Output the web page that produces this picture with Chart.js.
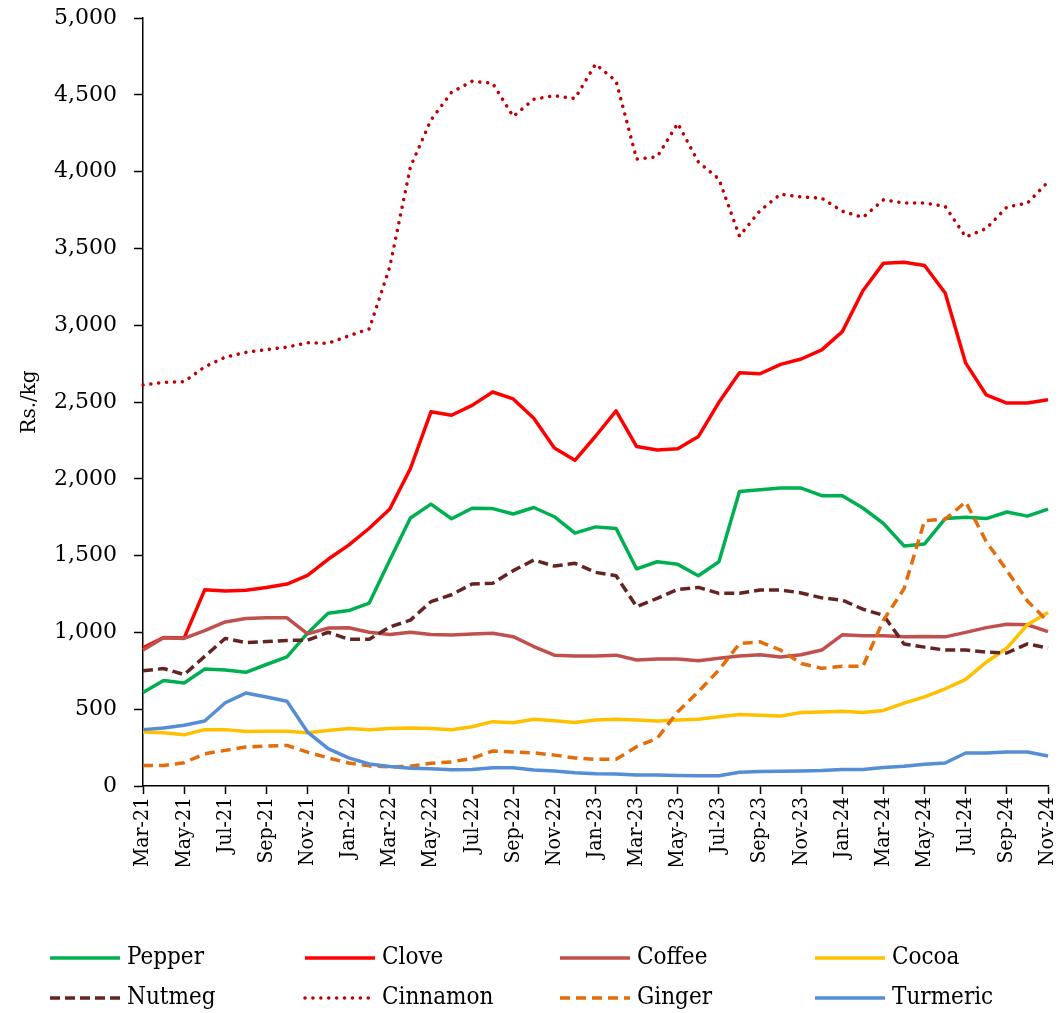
<!DOCTYPE html>
<html>
<head>
<meta charset="utf-8">
<script src="https://cdn.jsdelivr.net/npm/chart.js@4.4.1/dist/chart.umd.min.js"></script>
<style>
  html, body { margin: 0; padding: 0; background: #fff; }
  #wrap { width: 1059px; height: 1013px; }
</style>
</head>
<body>
<div id="wrap"><canvas id="myChart" width="1059" height="1013"></canvas></div>
<script>
const months = ['Mar-21','Apr-21','May-21','Jun-21','Jul-21','Aug-21','Sep-21','Oct-21','Nov-21','Dec-21',
  'Jan-22','Feb-22','Mar-22','Apr-22','May-22','Jun-22','Jul-22','Aug-22','Sep-22','Oct-22','Nov-22','Dec-22',
  'Jan-23','Feb-23','Mar-23','Apr-23','May-23','Jun-23','Jul-23','Aug-23','Sep-23','Oct-23','Nov-23','Dec-23',
  'Jan-24','Feb-24','Mar-24','Apr-24','May-24','Jun-24','Jul-24','Aug-24','Sep-24','Oct-24','Nov-24']

const pepper = [609, 687, 671, 761, 755, 740, 791, 840, 995, 1124, 1142, 1191, 1472, 1745, 1835, 1740, 1808, 1806, 1771, 1813, 1753, 1646, 1687, 1677, 1413, 1460, 1443, 1369, 1460, 1918, 1928, 1940, 1940, 1890, 1890, 1810, 1709, 1563, 1576, 1741, 1749, 1741, 1784, 1757, 1802]
const clove = [900, 967, 963, 1277, 1270, 1275, 1292, 1315, 1371, 1476, 1568, 1678, 1803, 2066, 2436, 2414, 2478, 2565, 2520, 2394, 2200, 2120, 2277, 2442, 2210, 2188, 2195, 2275, 2498, 2690, 2684, 2745, 2780, 2839, 2958, 3224, 3404, 3410, 3389, 3210, 2753, 2546, 2493, 2493, 2514]
const coffee = [885, 965, 961, 1012, 1068, 1090, 1095, 1095, 990, 1028, 1030, 1001, 986, 1001, 986, 983, 990, 994, 972, 908, 852, 847, 847, 852, 820, 827, 827, 816, 831, 847, 855, 840, 854, 885, 984, 978, 978, 971, 973, 971, 1000, 1031, 1053, 1050, 1005]
const cocoa = [351, 347, 333, 367, 367, 355, 357, 357, 347, 361, 374, 367, 374, 378, 375, 366, 386, 419, 412, 434, 425, 414, 430, 434, 430, 423, 430, 434, 451, 465, 460, 455, 479, 482, 487, 479, 492, 540, 580, 633, 694, 806, 898, 1050, 1130]
const nutmeg = [750, 765, 725, 844, 961, 933, 940, 948, 949, 1001, 955, 955, 1035, 1080, 1200, 1245, 1315, 1320, 1402, 1471, 1432, 1450, 1391, 1369, 1167, 1222, 1280, 1293, 1254, 1255, 1276, 1276, 1257, 1225, 1210, 1151, 1111, 925, 904, 885, 885, 872, 866, 925, 898]
const cinnamon = [2610, 2628, 2632, 2729, 2792, 2823, 2841, 2857, 2886, 2882, 2931, 2976, 3380, 4030, 4336, 4516, 4588, 4575, 4359, 4471, 4494, 4476, 4700, 4590, 4081, 4097, 4314, 4063, 3951, 3580, 3746, 3853, 3835, 3827, 3742, 3702, 3816, 3795, 3795, 3774, 3575, 3630, 3769, 3795, 3933]
const ginger = [133, 133, 152, 210, 232, 254, 260, 264, 220, 183, 150, 131, 125, 128, 148, 157, 180, 228, 222, 216, 201, 183, 174, 174, 256, 310, 484, 614, 755, 927, 939, 885, 798, 766, 779, 779, 1080, 1284, 1728, 1736, 1850, 1590, 1404, 1204, 1071]
const turmeric = [367, 378, 396, 423, 542, 605, 579, 552, 351, 243, 183, 143, 127, 116, 112, 105, 108, 119, 119, 104, 98, 87, 80, 78, 72, 72, 69, 67, 67, 89, 95, 96, 98, 101, 107, 107, 120, 128, 141, 150, 215, 215, 221, 221, 195]

const seriesNames = ['Pepper', 'Clove', 'Coffee', 'Cocoa', 'Nutmeg', 'Cinnamon', 'Ginger', 'Turmeric']
const seriesData = [pepper, clove, coffee, cocoa, nutmeg, cinnamon, ginger, turmeric]
const seriesColors = ['#00B050', '#FF0000', '#C0504D', '#FFC000', '#632523', '#C00000', '#E46C0A', '#558ED5']
const seriesDash = [[], [], [], [], [10, 5], [0.1, 7.8], [10, 6], []]

const serif = "'DejaVu Serif', serif"
const narrow = "'DejaVu Serif Condensed', 'DejaVu Serif', serif"

// legend drawn in a grid of 4 columns under the x axis
const gridLegend = {
  id: 'gridLegend',
  afterDraw(chart) {
    const ctx = chart.ctx
    ctx.save()
    chart.data.datasets.forEach((ds, i) => {
      const x = 50 + (i % 4) * 255
      const y = 958 + Math.floor(i / 4) * 40
      ctx.strokeStyle = ds.borderColor
      ctx.lineWidth = 3.5
      ctx.lineCap = ds.borderCapStyle
      ctx.setLineDash(ds.borderDash)
      ctx.beginPath()
      ctx.moveTo(x, y)
      ctx.lineTo(x + 70, y)
      ctx.stroke()
      ctx.setLineDash([])
      ctx.fillStyle = '#000'
      ctx.font = "24px " + narrow
      ctx.textBaseline = 'middle'
      ctx.textAlign = 'left'
      ctx.fillText(ds.label, x + 77, y)
    })
    ctx.restore()
  }
}

const ctx = document.getElementById('myChart').getContext('2d')
const myChart = new Chart(ctx, {
  type: 'line',
  data: {
    labels: months,
    datasets: seriesNames.map((name, i) => ({
      label: name,
      data: seriesData[i],
      borderColor: seriesColors[i],
      backgroundColor: seriesColors[i],
      borderWidth: 3.5,
      borderDash: seriesDash[i],
      borderCapStyle: i === 5 ? 'round' : 'butt',
      borderJoinStyle: 'round',
      pointRadius: 0,
      tension: 0,
      fill: false,
      order: 7 - i
    }))
  },
  options: {
    responsive: false,
    animation: false,
    layout: { padding: { left: 0, right: 11, top: 18, bottom: 147 } },
    plugins: {
      legend: { display: false },
      tooltip: { enabled: false }
    },
    scales: {
      x: {
        offset: false,
        border: { display: true, color: '#000', width: 1.5 },
        grid: {
          drawOnChartArea: false,
          tickLength: 8,
          tickWidth: 1.5,
          tickColor: c => c.index % 2 === 0 ? '#000' : 'rgba(0,0,0,0)'
        },
        ticks: {
          autoSkip: false,
          minRotation: 90,
          maxRotation: 90,
          padding: 3,
          color: '#000',
          font: { family: narrow, size: 21 },
          callback: function (v, i) { return i % 2 === 0 ? this.getLabelForValue(v) : '' }
        },
        afterFit: s => { s.height = 80; s.paddingLeft = 0; s.paddingRight = 0 }
      },
      y: {
        min: 0,
        max: 5000,
        border: { display: true, color: '#000', width: 1.5 },
        grid: { drawOnChartArea: false, tickLength: 9, tickWidth: 1.5, tickColor: '#000' },
        ticks: {
          stepSize: 500,
          padding: 17,
          color: '#000',
          font: { family: serif, size: 22 },
          callback: v => v.toLocaleString('en-US')
        },
        title: {
          display: true,
          text: 'Rs./kg',
          color: '#000',
          font: { family: serif, size: 20 },
          padding: { top: 18, bottom: 0 }
        },
        afterFit: s => { s.width = 143; s.paddingTop = 0; s.paddingBottom = 0 }
      }
    }
  },
  plugins: [gridLegend]
})
</script>
</body>
</html>
